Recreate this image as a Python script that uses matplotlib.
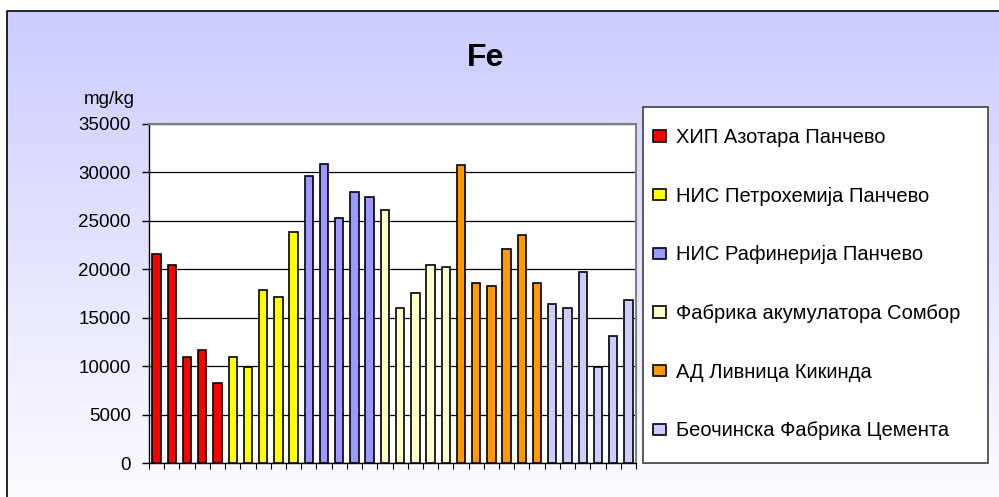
import matplotlib.pyplot as plt
import numpy as np
from matplotlib.patches import Patch, Rectangle

plt.rcParams["font.family"] = ["Liberation Sans", "DejaVu Sans"]

# Fe (mg/kg) po lokacijama
groups = [
    "ХИП Азотара Панчево",
    "НИС Петрохемија Панчево",
    "НИС Рафинерија Панчево",
    "Фабрика акумулатора Сомбор",
    "АД Ливница Кикинда",
    "Беочинска Фабрика Цемента",
]
colors = ["#FF0000", "#FFFF00", "#9999FF", "#FFFFCC", "#FF9900", "#CCCCFF"]

hip = [21600, 20400, 10900, 11700, 8250]
petrohemija = [10900, 9870, 17900, 17100, 23850]
rafinerija = [29650, 30900, 25300, 27950, 27450]
sombor = [26100, 16050, 17550, 20400, 20200]
kikinda = [30750, 18550, 18300, 22050, 23500, 18550]
beocin = [16450, 16050, 19750, 9870, 13150, 16850]
series = [hip, petrohemija, rafinerija, sombor, kikinda, beocin]

W, H = 999, 497
fig = plt.figure(figsize=(W / 100, H / 100), dpi=100)
fig.patch.set_facecolor("white")

# pozadina dijagrama sa gradijentom
bg = fig.add_axes([0, 0, 1, 1], zorder=0)
bg.set_xlim(0, W)
bg.set_ylim(H, 0)
bg.axis("off")
top = np.array([204, 204, 255]) / 255
bot = np.array([252, 252, 255]) / 255
t = np.linspace(0, 1, 256)[:, None]
grad = (top * (1 - t) + bot * t)[:, None, :]
bg.imshow(grad, extent=(7, W + 5, H + 5, 11), aspect="auto", zorder=0)
bg.plot([7, 7, W + 5], [H + 5, 11, 11], color="black", lw=1.2, zorder=1)
bg.add_patch(Rectangle((643, 107), 345, 356, facecolor="white",
                       edgecolor="#404040", lw=1.2, zorder=2))

fig.text(486 / W, 1 - 58 / H, "Fe", ha="center", va="center",
         fontsize=23, fontweight="bold")
fig.text(109 / W, 1 - 99 / H, "mg/kg", ha="center", va="center", fontsize=13.5)

ax = fig.add_axes([149 / W, (H - 463) / H, (636 - 149) / W, (463 - 124) / H], zorder=1)
ax.set_facecolor("white")

values = [v for s in series for v in s]
bar_colors = [c for s, c in zip(series, colors) for _ in s]
x = np.arange(len(values))
ax.bar(x, values, width=0.55, color=bar_colors, edgecolor="black", linewidth=1.2, zorder=3)

ax.set_xlim(-0.5, len(values) - 0.5)
ax.set_ylim(0, 35000)
ax.set_yticks(np.arange(0, 35001, 5000))
ax.set_xticks(np.arange(len(values) + 1) - 0.5)
ax.set_xticklabels([])
ax.tick_params(axis="y", direction="out", length=5, width=1, labelsize=13.5, pad=8)
ax.tick_params(axis="x", direction="out", length=4, width=0.8)
ax.grid(True, axis="y", color="black", lw=0.9, zorder=1)
for side in ["top", "right"]:
    ax.spines[side].set_color("#808080")
    ax.spines[side].set_linewidth(1.5)
for side in ["left", "bottom"]:
    ax.spines[side].set_color("black")
    ax.spines[side].set_linewidth(1.0)

handles = [Patch(facecolor=c, edgecolor="black", lw=1.2) for c in colors]
fig.legend(handles, groups, loc="upper left", bbox_to_anchor=(653 / W, 1 - 128 / H),
           frameon=False, fontsize=14.5, handlelength=0.65, handleheight=0.5,
           handletextpad=0.5, labelspacing=1.97, borderpad=0, borderaxespad=0)

fig.savefig("out.png", dpi=100)
